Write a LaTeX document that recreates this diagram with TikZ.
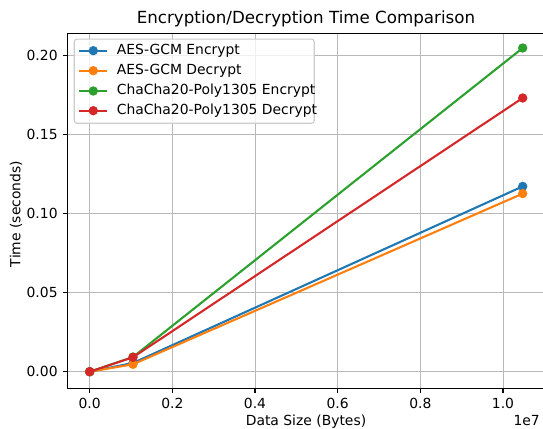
\documentclass[tikz,border=0pt]{standalone}
\usepackage{fontspec}
\setmainfont{DejaVu Sans}
\definecolor{cblue}{HTML}{1F77B4}
\definecolor{corange}{HTML}{FF7F0E}
\definecolor{cgreen}{HTML}{2CA02C}
\definecolor{cred}{HTML}{D62728}
\definecolor{gridgray}{HTML}{B8B8B8}
\definecolor{legendgray}{HTML}{CCCCCC}
\begin{document}
\begin{tikzpicture}[x=1pt,y=1pt,line join=round,
  gridline/.style={draw=gridgray,line width=1.0pt},
  spine/.style={draw=black,line width=1.11pt,line cap=rect},
  tickmark/.style={draw=black,line width=1.11pt},
  series/.style={line width=2.08pt},
  ticklab/.style={font=\fontsize{13.9}{16}\selectfont,inner sep=0pt,text=black},
  leglab/.style={font=\fontsize{13.9}{16}\selectfont,inner sep=0pt,anchor=west,text=black},
  dot/.style={circle,inner sep=0pt,minimum size=9.4pt}]
\useasboundingbox (0,0) rectangle (543,428);
\fill[white] (0,0) rectangle (543,428);
% axes corners
\coordinate (ll) at (67.5,39.7);
\coordinate (ur) at (545,394.5);
% grid
\foreach \gx in {89.7,172.4,255.0,337.7,420.3,503.0}
  \draw[gridline] (\gx,39.7) -- (\gx,394.5);
\foreach \gy in {56.3,135.3,214.3,293.3,372.3}
  \draw[gridline] (67.5,\gy) -- (545,\gy);
% series
\begin{scope}[series]
\draw[cblue] (89.7,56.3) coordinate (b0) -- (133.0,65.0) coordinate (b1) -- (522.7,241.6) coordinate (b2);
\foreach \p in {b0,b1,b2} \node[dot,fill=cblue] at (\p) {};
\draw[corange] (89.7,56.3) coordinate (o0) -- (133.0,63.7) coordinate (o1) -- (522.7,234.4) coordinate (o2);
\foreach \p in {o0,o1,o2} \node[dot,fill=corange] at (\p) {};
\draw[cgreen] (89.7,56.3) coordinate (g0) -- (133.0,71.0) coordinate (g1) -- (522.7,380.0) coordinate (g2);
\foreach \p in {g0,g1,g2} \node[dot,fill=cgreen] at (\p) {};
\draw[cred] (89.7,56.3) coordinate (r0) -- (133.0,70.7) coordinate (r1) -- (522.7,330.0) coordinate (r2);
\foreach \p in {r0,r1,r2} \node[dot,fill=cred] at (\p) {};
\end{scope}
% spines
\draw[spine] (67.5,394.5) -- (ll) -- (545,39.7);
\draw[spine] (67.5,394.5) -- (545,394.5);
% ticks and tick labels
\foreach \gx/\lab in {89.7/0.0,172.4/0.2,255.0/0.4,337.7/0.6,420.3/0.8,503.0/1.0}{
  \draw[tickmark] (\gx,39.7) -- (\gx,34.8);
  \node[ticklab,anchor=north] at (\gx,30.3) {\lab};
}
\foreach \gy/\lab in {56.3/0.00,135.3/0.05,214.3/0.10,293.3/0.15,372.3/0.20}{
  \draw[tickmark] (67.5,\gy) -- (62.6,\gy);
  \node[ticklab,anchor=east] at (57.8,\gy) {\lab};
}
\node[ticklab,anchor=east] (offset) at (540,7.5) {1e7};
% labels
\node[ticklab] (xlab) at (306,6.5) {Data Size (Bytes)};
\node[ticklab,rotate=90] (ylab) at (16,214) {Time (seconds)};
\node[inner sep=0pt,font=\fontsize{16.7}{19}\selectfont] (title) at (306,409.5) {Encryption/Decryption Time Comparison};
% legend
\draw[draw=legendgray,fill=white,fill opacity=0.8,line width=1.11pt,rounded corners=2.8pt] (74.3,304.7) rectangle (314.3,388.9);
\foreach \yy/\col/\lab in {377.3/cblue/AES-GCM Encrypt,357.3/corange/AES-GCM Decrypt,337.0/cgreen/ChaCha20-Poly1305 Encrypt,317.3/cred/ChaCha20-Poly1305 Decrypt}{
  \draw[series,\col] (79,\yy) -- (106.7,\yy);
  \node[dot,fill=\col] at (93.3,\yy) {};
  \node[leglab] at (116.7,\yy) {\lab};
}
\end{tikzpicture}
\end{document}
